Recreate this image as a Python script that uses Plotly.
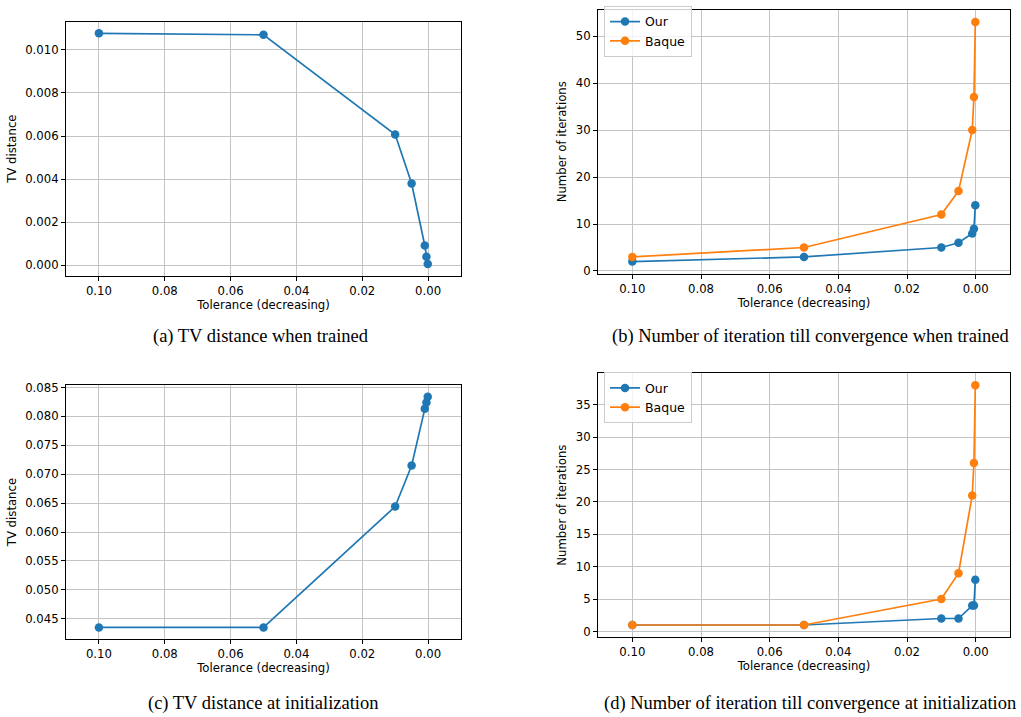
import plotly.graph_objects as go

# ---- data ----
tolerance = [0.1, 0.05, 0.01, 0.005, 0.001, 0.0005, 0.0001]
tv_trained = [0.01077, 0.01070, 0.00607, 0.00380, 0.00092, 0.00040, 0.00006]
iters_trained_our = [2, 3, 5, 6, 8, 9, 14]
iters_trained_baque = [3, 5, 12, 17, 30, 37, 53]
tv_init = [0.0435, 0.0435, 0.0644, 0.0715, 0.0813, 0.0824, 0.0834]
iters_init_our = [1, 1, 2, 2, 4, 4, 8]
iters_init_baque = [1, 1, 5, 9, 21, 26, 38]

x_ticks = [0.10, 0.08, 0.06, 0.04, 0.02, 0.00]
x_ticklabels = ["0.10", "0.08", "0.06", "0.04", "0.02", "0.00"]
captions = [
    "(a) TV distance when trained",
    "(b) Number of iteration till convergence when trained",
    "(c) TV distance at initialization",
    "(d) Number of iteration till convergence at initialization",
]

W, H = 1021, 717
BLUE = "#1f77b4"
ORANGE = "#ff7f0e"
TICKFONT = dict(family="DejaVu Sans", size=11.7, color="black")
GRID = "#c4c4c4"

# pixel boxes in window coordinates: (left, right, top, bottom)
boxes = [
    (66, 461, 17, 274),
    (598, 1010, 5, 272),
    (66, 461, 385, 642),
    (598, 1010, 373, 640),
]


def margin_range(vals):
    lo, hi = min(vals), max(vals)
    m = (hi - lo) * 0.05
    return [lo - m, hi + m]


fig = go.Figure()

line = dict(width=1.7)
mk = dict(size=8.5)

# (a)
fig.add_trace(go.Scatter(x=tolerance, y=tv_trained, mode="lines+markers",
                         line=dict(color=BLUE, **line), marker=dict(color=BLUE, **mk),
                         xaxis="x", yaxis="y", showlegend=False))
# (b)
fig.add_trace(go.Scatter(x=tolerance, y=iters_trained_our, mode="lines+markers", name="Our",
                         line=dict(color=BLUE, **line), marker=dict(color=BLUE, **mk),
                         xaxis="x2", yaxis="y2", legend="legend"))
fig.add_trace(go.Scatter(x=tolerance, y=iters_trained_baque, mode="lines+markers", name="Baque",
                         line=dict(color=ORANGE, **line), marker=dict(color=ORANGE, **mk),
                         xaxis="x2", yaxis="y2", legend="legend"))
# (c)
fig.add_trace(go.Scatter(x=tolerance, y=tv_init, mode="lines+markers",
                         line=dict(color=BLUE, **line), marker=dict(color=BLUE, **mk),
                         xaxis="x3", yaxis="y3", showlegend=False))
# (d)
fig.add_trace(go.Scatter(x=tolerance, y=iters_init_our, mode="lines+markers", name="Our",
                         line=dict(color=BLUE, **line), marker=dict(color=BLUE, **mk),
                         xaxis="x4", yaxis="y4", legend="legend2"))
fig.add_trace(go.Scatter(x=tolerance, y=iters_init_baque, mode="lines+markers", name="Baque",
                         line=dict(color=ORANGE, **line), marker=dict(color=ORANGE, **mk),
                         xaxis="x4", yaxis="y4", legend="legend2"))

common_axis = dict(showline=True, linecolor="black", linewidth=1, mirror=True,
                   ticks="outside", ticklen=4, tickcolor="black", tickwidth=1,
                   showgrid=True, gridcolor=GRID, gridwidth=1, zeroline=False,
                   tickfont=TICKFONT)

y_specs = [
    dict(range=margin_range(tv_trained), dtick=0.002, tick0=0, tickformat=".3f", title="TV distance"),
    dict(range=margin_range(iters_trained_our + iters_trained_baque), dtick=10, tick0=0,
         tickformat="d", title="Number of iterations"),
    dict(range=margin_range(tv_init), dtick=0.005, tick0=0, tickformat=".3f", title="TV distance"),
    dict(range=margin_range(iters_init_our + iters_init_baque), dtick=5, tick0=0,
         tickformat="d", title="Number of iterations"),
]

layout = dict(width=W, height=H, autosize=False,
              margin=dict(l=0, r=0, t=0, b=0),
              paper_bgcolor="white", plot_bgcolor="white",
              font=dict(family="DejaVu Sans", size=11.7, color="black"))

for i, (box, ys) in enumerate(zip(boxes, y_specs)):
    sfx = "" if i == 0 else str(i + 1)
    l, r, t, b = box
    layout["xaxis" + sfx] = dict(
        domain=[l / W, r / W], anchor="y" + sfx, range=[0.11, -0.01],
        tickmode="array", tickvals=x_ticks, ticktext=x_ticklabels,
        title=dict(text="Tolerance (decreasing)", font=TICKFONT, standoff=3),
        **common_axis)
    layout["yaxis" + sfx] = dict(
        domain=[1 - b / H, 1 - t / H], anchor="x" + sfx, range=ys["range"],
        tickmode="linear", dtick=ys["dtick"], tick0=ys["tick0"], tickformat=ys["tickformat"],
        title=dict(text=ys["title"], font=TICKFONT, standoff=6),
        **common_axis)

legend_common = dict(bgcolor="rgba(255,255,255,0.8)", bordercolor="#cccccc", borderwidth=1,
                     font=dict(family="DejaVu Sans", size=12.5, color="black"),
                     xanchor="left", yanchor="top", tracegroupgap=0, itemwidth=30)
layout["legend"] = dict(x=604 / W, y=1 - 1 / H, **legend_common)
layout["legend2"] = dict(x=604 / W, y=1 - 372 / H, **legend_common)

cap_pos = [(261, 336), (810, 336), (263, 707), (810, 707)]
annotations = []
for cap, (cx, cy) in zip(captions, cap_pos):
    annotations.append(dict(text=cap, x=cx / W, y=1 - cy / H,
                            xref="paper", yref="paper",
                            showarrow=False, xanchor="center", yanchor="middle",
                            font=dict(family="Liberation Serif", size=18.5, color="black")))
layout["annotations"] = annotations

fig.update_layout(**layout)
fig.write_html("out.html", config=dict(displayModeBar=False),
               post_script="document.body.style.margin='0';document.body.style.overflow='hidden';")
